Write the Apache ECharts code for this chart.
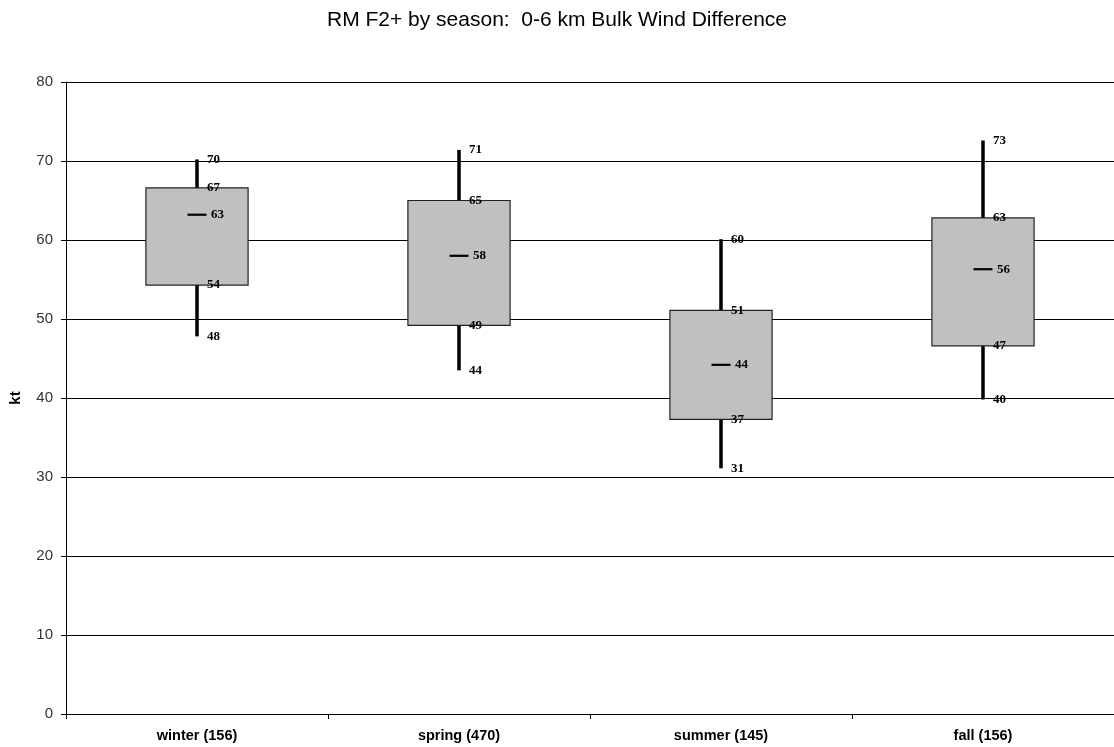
<!DOCTYPE html>
<html><head><meta charset="utf-8">
<script src="https://cdn.jsdelivr.net/npm/echarts@6/dist/echarts.min.js"></script>
<style>html,body{margin:0;padding:0;background:#fff}#c{width:1114px;height:747px}</style>
</head><body><div id="c"></div>
<script>
var titleText = 'RM F2+ by season:  0-6 km Bulk Wind Difference';
var categories = ['winter (156)', 'spring (470)', 'summer (145)', 'fall (156)'];
var whiskerLow  = [47.8, 43.5, 31.1, 39.8];
var q1          = [54.3, 49.2, 37.3, 46.6];
var median      = [63.2, 58.0, 44.2, 56.3];
var q3          = [66.6, 65.0, 51.1, 62.8];
var whiskerHigh = [70.2, 71.4, 60.1, 72.6];
var yTicks = [0, 10, 20, 30, 40, 50, 60, 70, 80];

var data = categories.map(function (c, i) {
  return [i, whiskerLow[i], q1[i], median[i], q3[i], whiskerHigh[i]];
});

var lblFont = 'bold 13px "Liberation Serif", "DejaVu Serif", serif';

function renderItem(params, api) {
  var i = api.value(0);
  var pLow = api.coord([i, api.value(1)]);
  var pQ1 = api.coord([i, api.value(2)]);
  var pMed = api.coord([i, api.value(3)]);
  var pQ3 = api.coord([i, api.value(4)]);
  var pHigh = api.coord([i, api.value(5)]);
  var bw = api.size([1, 0])[0] * 0.39;
  var x = pMed[0];
  var children = [
    { type: 'line', shape: { x1: x, y1: pHigh[1], x2: x, y2: pLow[1] },
      style: { stroke: '#000', lineWidth: 3.5 } },
    { type: 'rect', shape: { x: x - bw / 2, y: pQ3[1], width: bw, height: pQ1[1] - pQ3[1] },
      style: { fill: '#c0c0c0', stroke: '#222', lineWidth: 1.2 } },
    { type: 'line', shape: { x1: x - 9.5, y1: pMed[1], x2: x + 9.5, y2: pMed[1] },
      style: { stroke: '#000', lineWidth: 2.2 } }
  ];
  var lbls = [[pHigh, api.value(5), 10], [pQ3, api.value(4), 10], [pMed, api.value(3), 14], [pQ1, api.value(2), 10], [pLow, api.value(1), 10]];
  lbls.forEach(function (l) {
    children.push({ type: 'text', x: x + l[2], y: l[0][1],
      style: { text: String(Math.round(l[1])), font: lblFont, fill: '#000', textVerticalAlign: 'middle', verticalAlign: 'middle', align: 'left' } });
  });
  return { type: 'group', children: children };
}

var chart = echarts.init(document.getElementById('c'), null, { renderer: 'canvas' });
chart.setOption({
  animation: false,
  backgroundColor: '#fff',
  title: {
    text: titleText, left: 'center', top: 5,
    textStyle: { fontFamily: 'Liberation Sans, Arial, sans-serif', fontSize: 21, fontWeight: 'normal', color: '#000' }
  },
  grid: { left: 66, right: 0, top: 82, bottom: 33, containLabel: false },
  xAxis: {
    type: 'category', data: categories, boundaryGap: true,
    axisLine: { lineStyle: { color: '#000', width: 1 } },
    axisTick: { show: true, length: 5, lineStyle: { color: '#000' } },
    axisLabel: { margin: 14, fontFamily: 'Liberation Sans, Arial, sans-serif', fontSize: 14.5, fontWeight: 'bold', color: '#000' },
    splitLine: { show: false }
  },
  yAxis: {
    type: 'value', min: yTicks[0], max: yTicks[yTicks.length - 1], interval: 10,
    name: 'kt', nameLocation: 'middle', nameGap: 43, nameRotate: 90,
    nameTextStyle: { fontFamily: 'Liberation Sans, Arial, sans-serif', fontSize: 15, fontWeight: 'bold', color: '#000' },
    axisLine: { show: true, lineStyle: { color: '#000', width: 1 } },
    axisTick: { show: true, length: 5, lineStyle: { color: '#000' } },
    axisLabel: { margin: 13, fontFamily: 'Liberation Sans, Arial, sans-serif', fontSize: 15, color: '#333' },
    splitLine: { show: true, lineStyle: { color: '#000', width: 1 } }
  },
  series: [{
    type: 'custom', renderItem: renderItem, data: data,
    encode: { x: 0, y: [1, 2, 3, 4, 5] }
  }]
});
</script></body></html>
